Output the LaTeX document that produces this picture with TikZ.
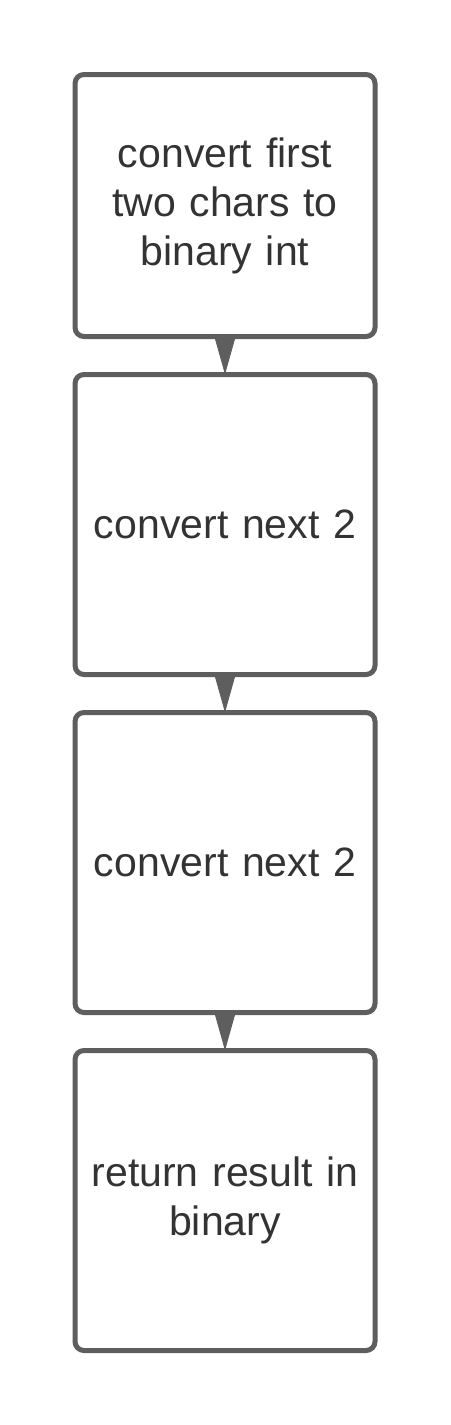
\documentclass[tikz,border=0pt]{standalone}
\usepackage{fontspec}
\setmainfont{Liberation Sans}
\usepackage{xcolor}
\usetikzlibrary{positioning}
\usetikzlibrary{arrows.meta}
\definecolor{linegray}{HTML}{5E5E5E}
\definecolor{textgray}{HTML}{333333}
\tikzset{
  stepbox/.style={
    draw=linegray, line width=5pt, rounded corners=9pt, outer sep=0pt,
    minimum width=300pt, minimum height=300pt, text width=280pt,
    align=center, text=textgray, font=\fontsize{41}{49}\selectfont
  },
  flow/.style={linegray, line width=1pt, -{Triangle[length=36pt, width=20pt]}}
}

\begin{document}
\begin{tikzpicture}
		\useasboundingbox (0,0) rectangle (450pt,-1425pt);
		\node[stepbox, minimum height=262pt] (first) at (225pt,-205.5pt) {convert first\\two chars to\\binary int};
		\node[stepbox, below=38pt of first] (next1) {convert next 2};
		\node[stepbox, below=38pt of next1] (next2) {convert next 2};
		\node[stepbox, below=38pt of next2] (result) {return result in\\binary};
		%
		\draw[flow] (first.south) -- (next1.north);
		\draw[flow] (next1.south) -- (next2.north);
		\draw[flow] (next2.south) -- (result.north);
	\end{tikzpicture}
\end{document}
